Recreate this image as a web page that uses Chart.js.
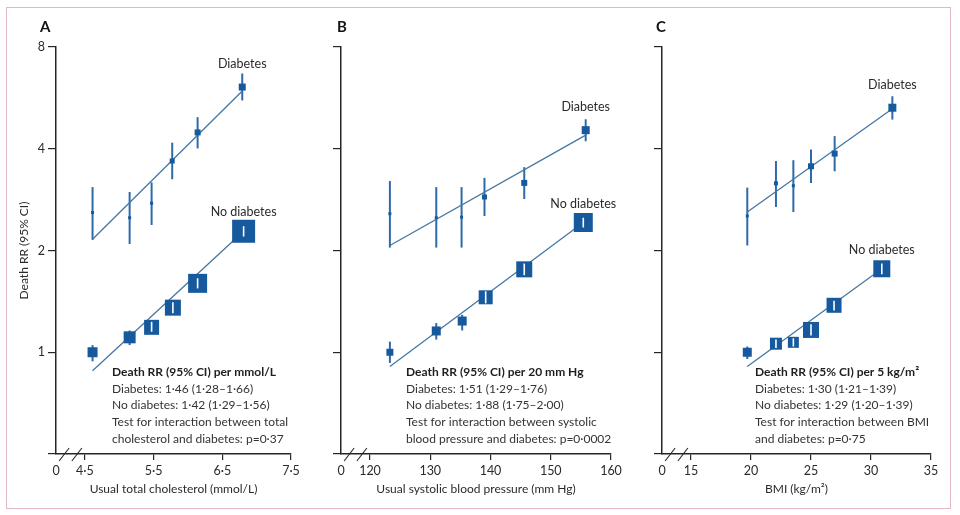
<!DOCTYPE html>
<html><head><meta charset="utf-8">
<script src="https://cdn.jsdelivr.net/npm/chart.js@4/dist/chart.umd.min.js"></script>
<style>
html,body{margin:0;padding:0;background:#fff;}
#wrap{position:relative;width:960px;height:515px;overflow:hidden;background:#fff;}
#frame{position:absolute;left:6px;top:7px;width:945px;height:502px;border:1px solid #e2b6c9;box-sizing:border-box;}
.pc{position:absolute;top:0;width:320px;height:515px;}
</style></head><body>
<div id="wrap"><div id="frame"></div>
<div class="pc" style="left:0"><canvas id="cA" width="320" height="515"></canvas></div>
<div class="pc" style="left:320px"><canvas id="cB" width="320" height="515"></canvas></div>
<div class="pc" style="left:640px"><canvas id="cC" width="320" height="515"></canvas></div>
</div>
<script>
// ---------- DATA ----------
// Panel A: usual total cholesterol (mmol/L)
const cholTicks = [4.5, 5.5, 6.5, 7.5];
const cholXDiab = [4.61, 5.15, 5.47, 5.77, 6.14, 6.79];
const cholDiab = [2.59, 2.50, 2.76, 3.68, 4.47, 6.09];
const cholDiabLo = [2.15, 2.09, 2.38, 3.25, 4.01, 5.56];
const cholDiabHi = [3.08, 2.98, 3.18, 4.17, 4.96, 6.68];
const cholXNoDiab = [4.61, 5.15, 5.47, 5.78, 6.14, 6.81];
const cholNoDiab = [1.00, 1.107, 1.185, 1.355, 1.599, 2.28];
const cholNoDiabLo = [0.94, 1.05, 1.15, 1.305, 1.545, 2.20];
const cholNoDiabHi = [1.05, 1.16, 1.23, 1.405, 1.655, 2.36];
const cholDiabFit = [2.16, 5.93];
const cholNoDiabFit = [0.882, 2.28];

// Panel B: usual systolic blood pressure (mm Hg)
const bpTicks = [120, 130, 140, 150, 160];
const bpXDiab = [123.3, 131.0, 135.2, 139.0, 145.6, 155.8];
const bpDiab = [2.57, 2.50, 2.51, 2.88, 3.17, 4.54];
const bpDiabLo = [2.04, 2.04, 2.04, 2.53, 2.84, 4.21];
const bpDiabHi = [3.21, 3.08, 3.08, 3.28, 3.53, 4.89];
const bpXNoDiab = [123.3, 131.0, 135.3, 139.2, 145.6, 155.4];
const bpNoDiab = [1.00, 1.156, 1.237, 1.454, 1.759, 2.42];
const bpNoDiabLo = [0.93, 1.09, 1.16, 1.395, 1.69, 2.34];
const bpNoDiabHi = [1.075, 1.22, 1.29, 1.515, 1.83, 2.50];
const bpDiabFit = [2.07, 4.39];
const bpNoDiabFit = [0.907, 2.42];

// Panel C: BMI (kg/m²)
const bmiTicks = [15, 20, 25, 30, 35];
const bmiXDiab = [19.69, 22.08, 23.53, 25.0, 26.97, 31.78];
const bmiDiab = [2.53, 3.16, 3.11, 3.55, 3.87, 5.29];
const bmiDiabLo = [2.07, 2.69, 2.60, 3.17, 3.43, 4.88];
const bmiDiabHi = [3.07, 3.68, 3.70, 3.98, 4.36, 5.72];
const bmiXNoDiab = [19.69, 22.08, 23.53, 25.0, 26.92, 30.9];
const bmiNoDiab = [1.00, 1.06, 1.07, 1.164, 1.377, 1.766];
const bmiNoDiabLo = [0.955, 1.03, 1.04, 1.12, 1.33, 1.70];
const bmiNoDiabHi = [1.04, 1.09, 1.10, 1.21, 1.42, 1.83];
const bmiDiabFit = [2.60, 5.25];
const bmiNoDiabFit = [0.907, 1.766];

const yTicks = [0.5, 1, 2, 4, 8];

const annA = ['Death RR (95% CI) per mmol/L', 'Diabetes: 1·46 (1·28–1·66)', 'No diabetes: 1·42 (1·29–1·56)', 'Test for interaction between total', 'cholesterol and diabetes: p=0·37'];
const annB = ['Death RR (95% CI) per 20 mm Hg', 'Diabetes: 1·51 (1·29–1·76)', 'No diabetes: 1·88 (1·75–2·00)', 'Test for interaction between systolic', 'blood pressure and diabetes: p=0·0002'];
const annC = ['Death RR (95% CI) per 5 kg/m²', 'Diabetes: 1·30 (1·21–1·39)', 'No diabetes: 1·29 (1·20–1·39)', 'Test for interaction between BMI', 'and diabetes: p=0·75'];

// ---------- STYLE ----------
const SQ = '#17599d', ERR = '#2f6aa8', FIT = '#4477a3', AX = '#262626', TXT = '#2b2b2b';
const FONT = 'Lato';
Chart.defaults.font.family = FONT;
Chart.defaults.font.size = 12;
Chart.defaults.color = TXT;

const sizesA = {d:[3,3,3,5,6,7], n:[10,12,15,16,19,23]};
const sizesB = {d:[3,3,3,5,6,8], n:[7,9,9,14,16,19]};
const sizesC = {d:[3,4,3,6,6,8], n:[9,12,11,16,15,17]};

function pts(xs, ys){ return xs.map((x,i)=>({x:x, y:ys[i]})); }

function makeDeco(cfg){
  return {
    id:'deco'+cfg.letter,
    beforeDatasetsDraw(chart){
      const ctx = chart.ctx, xs = chart.scales.x, ys = chart.scales.y;
      ctx.save();
      ctx.strokeStyle = ERR; ctx.lineWidth = 2;
      cfg.groups.forEach(g=>{
        g.x.forEach((xv,i)=>{
          const px = xs.getPixelForValue(xv);
          ctx.beginPath();
          ctx.moveTo(px, ys.getPixelForValue(g.lo[i]));
          ctx.lineTo(px, ys.getPixelForValue(g.hi[i]));
          ctx.stroke();
        });
      });
      ctx.restore();
    },
    afterDatasetsDraw(chart){
      const ctx = chart.ctx, xs = chart.scales.x, ys = chart.scales.y;
      ctx.save();
      ctx.strokeStyle = '#ffffff'; ctx.lineWidth = 1.6;
      cfg.groups.forEach(g=>{
        g.x.forEach((xv,i)=>{
          const px = xs.getPixelForValue(xv), py = ys.getPixelForValue(g.v[i]);
          const half = g.s[i]/2;
          const top = ys.getPixelForValue(g.hi[i]), bot = ys.getPixelForValue(g.lo[i]);
          if (top >= py - half + 0.5 && bot <= py + half - 0.5) {
            ctx.beginPath(); ctx.moveTo(px, top); ctx.lineTo(px, bot); ctx.stroke();
          }
        });
      });
      ctx.restore();
    },
    afterDraw(chart){
      const ctx = chart.ctx, xs = chart.scales.x, ys = chart.scales.y, ca = chart.chartArea;
      ctx.save();
      // panel letter
      ctx.fillStyle = '#111';
      ctx.font = 'bold 15px ' + FONT;
      ctx.textAlign = 'left'; ctx.textBaseline = 'middle';
      ctx.fillText(cfg.letter, cfg.letterX, 27);
      // group labels
      ctx.fillStyle = TXT;
      ctx.font = '12.5px ' + FONT;
      ctx.textAlign = 'center';
      const gd = cfg.groups[0], gn = cfg.groups[1];
      const ld = gd.x.length-1, ln = gn.x.length-1;
      ctx.fillText('Diabetes', xs.getPixelForValue(gd.x[ld]), ys.getPixelForValue(gd.v[ld]) - 23);
      ctx.fillText('No diabetes', xs.getPixelForValue(gn.x[ln]), ys.getPixelForValue(gn.v[ln]) - 19);
      // annotation
      ctx.textAlign = 'left';
      cfg.ann.forEach((t,i)=>{
        ctx.font = (i===0 ? 'bold ' : '') + '12px ' + FONT;
        ctx.fillStyle = i===0 ? '#1e1e1e' : '#333';
        ctx.fillText(t, ca.left + cfg.annDx, 372 + i*16.8);
      });
      // axis break marks
      const y0 = xs.top;
      const xt = xs.getPixelForValue(cfg.ticks[0]);
      ctx.strokeStyle = AX; ctx.lineWidth = 1.1;
      [0.28, 0.72].forEach(f=>{
        const cx = ca.left + (xt - ca.left)*f;
        ctx.beginPath(); ctx.moveTo(cx-5, y0+7); ctx.lineTo(cx+5, y0-6); ctx.stroke();
      });
      ctx.restore();
    }
  };
}

function build(id, cfg){
  const g = cfg.groups;
  const datasets = [
    {type:'scatter', data:pts(g[1].x, g[1].v), pointStyle:'rect', backgroundColor:SQ, borderWidth:0,
     pointRadius:g[1].s.map(s=>s/Math.SQRT2), pointHoverRadius:g[1].s.map(s=>s/Math.SQRT2), order:1},
    {type:'scatter', data:pts(g[0].x, g[0].v), pointStyle:'rect', backgroundColor:SQ, borderWidth:0,
     pointRadius:g[0].s.map(s=>s/Math.SQRT2), pointHoverRadius:g[0].s.map(s=>s/Math.SQRT2), order:2},
    {type:'line', data:[{x:g[0].x[0], y:cfg.fitD[0]}, {x:g[0].x[g[0].x.length-1], y:cfg.fitD[1]}],
     borderColor:FIT, borderWidth:1.3, pointRadius:0, fill:false, order:3},
    {type:'line', data:[{x:g[1].x[0], y:cfg.fitN[0]}, {x:g[1].x[g[1].x.length-1], y:cfg.fitN[1]}],
     borderColor:FIT, borderWidth:1.3, pointRadius:0, fill:false, order:4}
  ];
  const xmin = cfg.ticks[0] - cfg.gap;
  new Chart(document.getElementById(id), {
    data:{datasets},
    options:{
      responsive:false, animation:false, events:[],
      layout:{padding:{top:47, right:cfg.padR, bottom:0, left:0}},
      plugins:{legend:{display:false}, tooltip:{enabled:false}},
      scales:{
        x:{type:'linear', min:xmin, max:cfg.ticks[cfg.ticks.length-1],
           afterBuildTicks:(s)=>{ s.ticks = [{value:xmin}].concat(cfg.ticks.map(v=>({value:v}))); },
           afterFit:(s)=>{ s.height = 61; },
           ticks:{autoSkip:false, maxRotation:0, padding:3, color:TXT, font:{size:12.5},
                  callback:(v,i)=> i===0 ? '0' : cfg.fmt(v)},
           grid:{drawOnChartArea:false, drawTicks:true, tickLength:6, lineWidth:1.2,
                 color:(c)=> c.index===0 ? 'rgba(0,0,0,0)' : AX},
           border:{display:true, color:AX, width:1.5},
           title:{display:true, text:cfg.xTitle, color:TXT, font:{size:12}, padding:{top:0, bottom:18.8}}
        },
        y:{type:'logarithmic', min:0.5, max:8,
           afterBuildTicks:(s)=>{ s.ticks = yTicks.map(v=>({value:v})); },
           afterFit:(s)=>{ s.width = cfg.yW; },
           ticks:{autoSkip:false, padding:3, color:TXT, font:{size:12.5},
                  callback:(v)=> (cfg.yLabels && v!==0.5) ? String(v) : ''},
           grid:{drawOnChartArea:false, drawTicks:true, tickLength:8, lineWidth:1.2, color:AX},
           border:{display:true, color:AX, width:1.5},
           title:{display:!!cfg.yTitle, text:cfg.yTitle||'', color:TXT, font:{size:12}, padding:{top:16.8, bottom:0}}
        }
      }
    },
    plugins:[makeDeco(cfg)]
  });
}

const dec1 = v => v.toFixed(1).replace('.', '·');
const int0 = v => String(Math.round(v));

build('cA', {letter:'A', letterX:40, yW:56, padR:29, gap:29/68.67, ticks:cholTicks, fmt:dec1,
  xTitle:'Usual total cholesterol (mmol/L)', yTitle:'Death RR (95% CI)', yLabels:true, annDx:56, ann:annA,
  fitD:cholDiabFit, fitN:cholNoDiabFit,
  groups:[{x:cholXDiab, v:cholDiab, lo:cholDiabLo, hi:cholDiabHi, s:sizesA.d},
          {x:cholXNoDiab, v:cholNoDiab, lo:cholNoDiabLo, hi:cholNoDiabHi, s:sizesA.n}]});

build('cB', {letter:'B', letterX:17, yW:21, padR:29, gap:29/6.025, ticks:bpTicks, fmt:int0,
  xTitle:'Usual systolic blood pressure (mm Hg)', yLabels:false, annDx:65, ann:annB,
  fitD:bpDiabFit, fitN:bpNoDiabFit,
  groups:[{x:bpXDiab, v:bpDiab, lo:bpDiabLo, hi:bpDiabHi, s:sizesB.d},
          {x:bpXNoDiab, v:bpNoDiab, lo:bpNoDiabLo, hi:bpNoDiabHi, s:sizesB.n}]});

build('cC', {letter:'C', letterX:16, yW:22, padR:29, gap:29/12, ticks:bmiTicks, fmt:int0,
  xTitle:'BMI (kg/m²)', yLabels:false, annDx:93, ann:annC,
  fitD:bmiDiabFit, fitN:bmiNoDiabFit,
  groups:[{x:bmiXDiab, v:bmiDiab, lo:bmiDiabLo, hi:bmiDiabHi, s:sizesC.d},
          {x:bmiXNoDiab, v:bmiNoDiab, lo:bmiNoDiabLo, hi:bmiNoDiabHi, s:sizesC.n}]});
</script>
</body></html>
